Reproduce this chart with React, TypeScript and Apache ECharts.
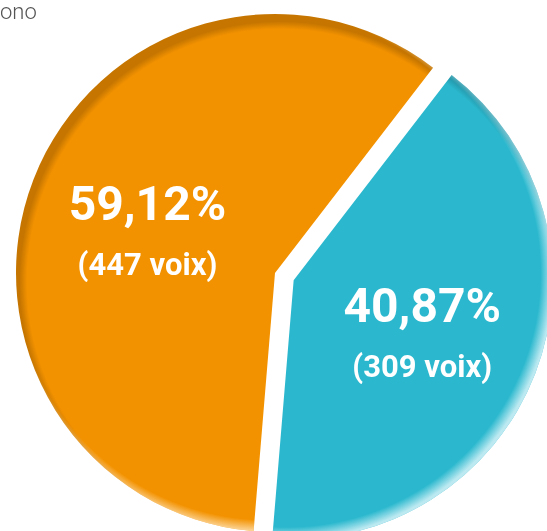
import React, { useEffect, useRef } from "react";
import * as echarts from "echarts";

const categories = ["B", "A"];
const votes = [309, 447];
const percentLabels = ["40,87%", "59,12%"];
const voteLabels = ["(309 voix)", "(447 voix)"];
const topText = "ono";

const FONT = "Roboto, 'Liberation Sans', sans-serif";

const CX = 275;
const CY = 273;
const R = 259;

export default function App() {
  const ref = useRef<HTMLDivElement>(null);
  useEffect(() => {
    if (!ref.current) return;
    const chart = echarts.init(ref.current, null, { renderer: "svg" });

    const baseColors = ["#2BB8CE", "#F39200"];
    const darkColors = ["#2396A9", "#C67600"];
    const lightColors = ["rgba(225,246,250,0.8)", "rgba(255,236,205,0.8)"];
    const lightClear = ["rgba(225,246,250,0)", "rgba(255,236,205,0)"];

    const baseFill = (i: number) => ({
      type: "radial",
      x: CX + 5,
      y: CY + 9,
      r: R + 10,
      global: true,
      colorStops: [
        { offset: 0, color: baseColors[i] },
        { offset: 0.94, color: baseColors[i] },
        { offset: 0.968, color: darkColors[i] },
        { offset: 1, color: darkColors[i] },
      ],
    });
    const lightFill = (i: number) => ({
      type: "radial",
      x: CX - 7,
      y: CY - 7,
      r: R + 10,
      global: true,
      colorStops: [
        { offset: 0, color: lightClear[i] },
        { offset: 0.944, color: lightClear[i] },
        { offset: 0.99, color: lightColors[i] },
        { offset: 1, color: lightColors[i] },
      ],
    });

    const offsets = [
      [0, 0],
      [-4, 7],
    ];
    const paddings = [
      [12, 0, 0, 10],
      [0, 0, 0, 0],
    ];

    const common = {
      type: "pie",
      center: [CX, CY],
      radius: [0, R],
      startAngle: 52.4,
      clockwise: true,
      selectedMode: "single",
      selectedOffset: 20,
      silent: true,
      labelLine: { show: false },
    };

    chart.setOption({
      animation: false,
      graphic: [
        {
          type: "text",
          left: 0,
          top: 0,
          style: {
            text: topText,
            fill: "#555555",
            fontSize: 22,
            fontFamily: "Roboto, sans-serif",
            fontWeight: 300,
          },
        },
      ],
      series: [
        {
          ...common,
          label: { show: false },
          data: categories.map((name, i) => ({
            name,
            value: votes[i],
            selected: i === 0,
            itemStyle: { color: baseFill(i) },
          })),
        },
        {
          ...common,
          data: categories.map((name, i) => ({
            name,
            value: votes[i],
            selected: i === 0,
            itemStyle: { color: lightFill(i) },
            label: {
              show: true,
              position: "inside",
              offset: offsets[i],
              padding: paddings[i],
              formatter: `{a|${percentLabels[i]}}\n{b|${voteLabels[i]}}`,
              rich: {
                a: {
                  color: "#ffffff",
                  fontSize: 48,
                  fontWeight: "bold",
                  fontFamily: FONT,
                  lineHeight: 64,
                  align: "center",
                },
                b: {
                  color: "#ffffff",
                  fontSize: 31,
                  fontWeight: "bold",
                  fontFamily: FONT,
                  lineHeight: 58,
                  align: "center",
                },
              },
            },
          })),
        },
      ],
    });
    return () => chart.dispose();
  }, []);
  return (
    <div
      ref={ref}
      style={{ position: "fixed", left: 0, top: 0, width: 547, height: 531 }}
    />
  );
}
